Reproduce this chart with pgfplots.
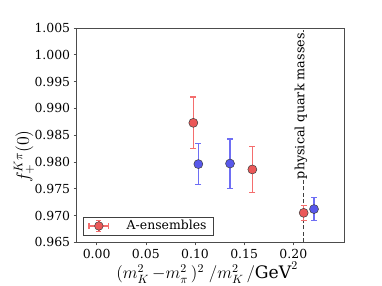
\documentclass[border=0pt]{standalone}
\usepackage{graphicx}
\usepackage{fontspec}
\setmainfont{DejaVu Serif}
\usepackage{pgfplots}
\pgfplotsset{compat=1.18}
\definecolor{rfill}{RGB}{235,88,88}
\definecolor{rbar}{RGB}{244,110,110}
\definecolor{bfill}{RGB}{88,88,235}
\definecolor{bbar}{RGB}{110,110,244}
\definecolor{edge}{RGB}{60,60,60}
\begin{document}
\begin{tikzpicture}
\useasboundingbox (-76.7bp,-43.7bp) rectangle (305.3bp,242.3bp);
\begin{axis}[
  at={(0,0)}, anchor=south west,
  scale only axis, width=267.3bp, height=214.3bp,
  xmin=-0.0203, xmax=0.2515, ymin=0.965, ymax=1.005,
  xtick={0,0.05,0.1,0.15,0.2},
  ytick={0.965,0.970,0.975,0.980,0.985,0.990,0.995,1.000,1.005},
  xticklabel style={/pgf/number format/.cd,fixed,fixed zerofill,precision=2},
  yticklabel style={/pgf/number format/.cd,fixed,fixed zerofill,precision=3},
  /pgf/number format/assume math mode=true,
  tick label style={font=\fontsize{12.5}{14}\selectfont},
  tick align=outside, tick pos=left, major tick length=3bp,
  axis line style={black!70, line width=0.6pt},
  every tick/.style={black!70, line width=0.6pt},
  xlabel={\scalebox{1.2}{$(m_K^2\,{-}m_\pi^2\,)^2\;/m_K^2\,/\mathrm{GeV}^2$}},
  ylabel={\scalebox{1.25}{$f_+^{K\pi}(0)$}},
  xlabel style={at={(axis description cs:0.488,-0.142)}, anchor=center, font=\fontsize{14.4}{17}\selectfont},
  ylabel style={at={(axis description cs:-0.197,0.40)}, anchor=center, font=\fontsize{14.4}{17}\selectfont},
  legend style={at={(axis description cs:0.0236,0.033)}, anchor=south west, draw=black!75, line width=0.6pt,
    font=\fontsize{12.5}{14}\selectfont, inner xsep=5bp, inner ysep=1.5bp, row sep=0pt},
  legend cell align=left,
  legend image code/.code={
    \draw[rbar, line width=1.3pt] (0.0cm,0) -- (0.7cm,0);
    \draw[rbar, line width=1.3pt] (0.35cm,-0.2cm) -- (0.35cm,0.2cm);
    \draw[rbar, line width=1.3pt] (0.0cm,-0.09cm) -- (0.0cm,0.09cm);
    \draw[rbar, line width=1.3pt] (0.7cm,-0.09cm) -- (0.7cm,0.09cm);
    \draw[rbar, line width=1.3pt] (0.26cm,0.2cm) -- (0.44cm,0.2cm);
    \draw[rbar, line width=1.3pt] (0.26cm,-0.2cm) -- (0.44cm,-0.2cm);
    \fill[rfill, draw=edge, line width=0.5pt] (0.35cm,0) circle (4.3bp);
    \path (1.25cm,0);
  },
]
\draw[black!75, dash pattern=on 4bp off 2.5bp, line width=0.7pt] (axis cs:0.2100,0.965) -- (axis cs:0.2100,1.005);
\node[rotate=90, fill=white, inner sep=1bp, font=\fontsize{12.8}{14}\selectfont] at (axis cs:0.2077,0.9904) {physical quark masses};
\addplot+[only marks, mark=*, mark size=4.5bp, mark options={fill=rfill, draw=edge, line width=0.5pt},
  error bars/.cd, y dir=both, y explicit,
  error bar style={rbar, line width=1.3pt},
  error mark options={rotate=90, rbar, mark size=3bp, line width=1.3pt}]
  coordinates {
    (0.0983,0.9873) +- (0,0.0048)
    (0.1583,0.9786) +- (0,0.0043)
    (0.2105,0.9705) +- (0,0.0014)
  };
\addlegendentry{A-ensembles}
\addplot+[forget plot, only marks, mark=*, mark size=4.5bp, mark options={fill=bfill, draw=edge, line width=0.5pt},
  error bars/.cd, y dir=both, y explicit,
  error bar style={bbar, line width=1.3pt},
  error mark options={rotate=90, bbar, mark size=3bp, line width=1.3pt}]
  coordinates {
    (0.1034,0.9796) +- (0,0.0038)
    (0.1356,0.9797) +- (0,0.0046)
    (0.2210,0.9712) +- (0,0.0021)
  };
\end{axis}
\end{tikzpicture}
\end{document}
